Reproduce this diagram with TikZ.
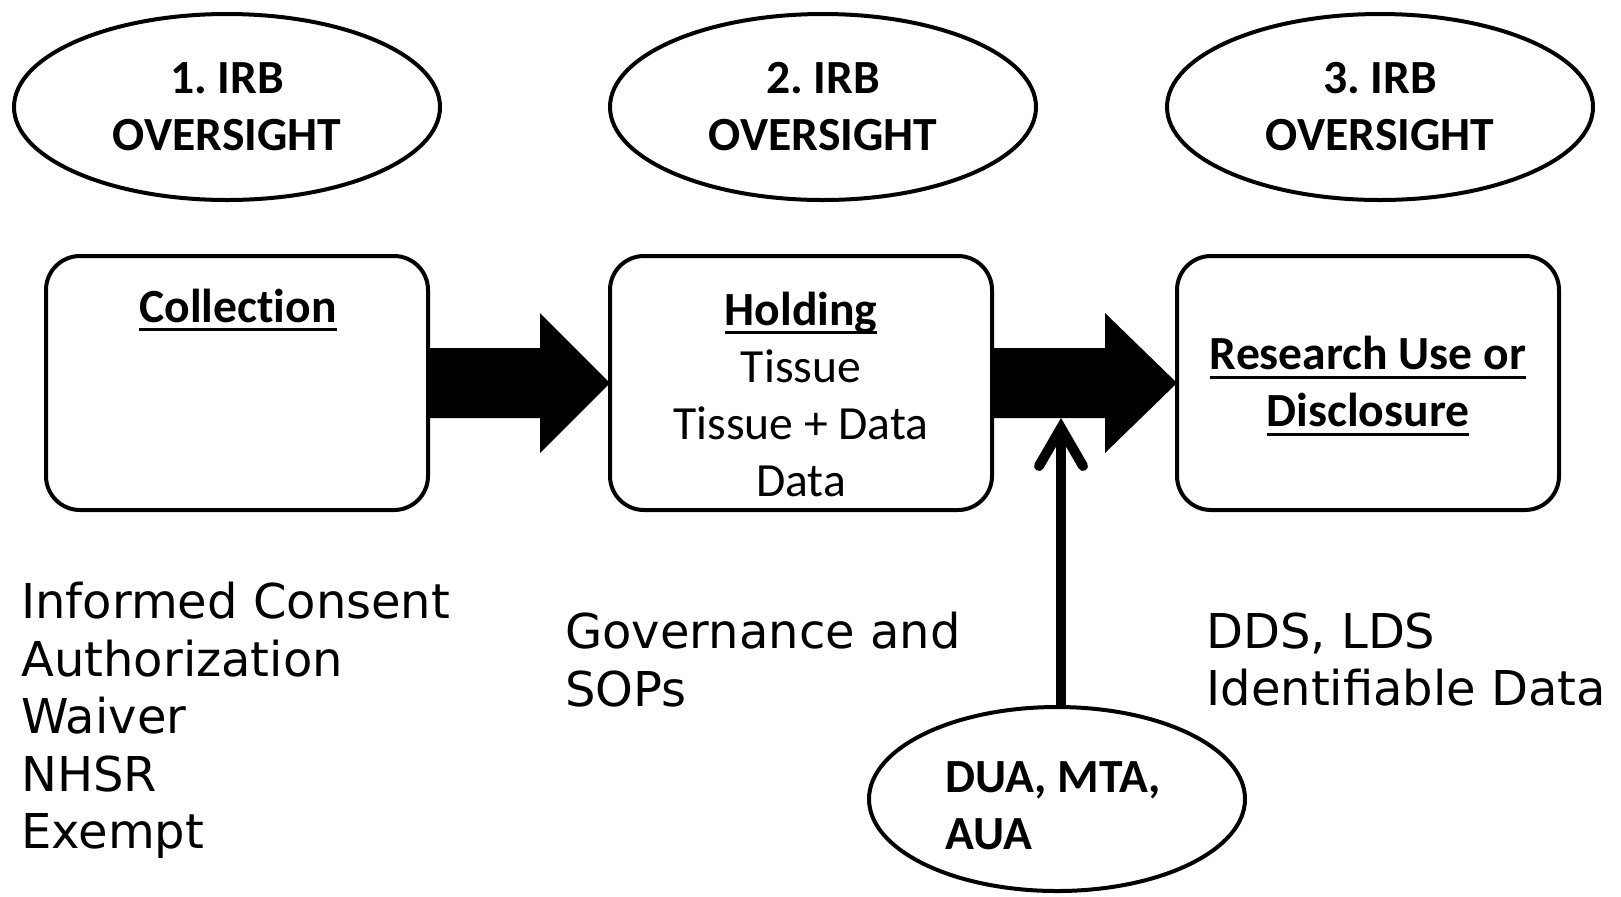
\documentclass[tikz,border=0pt]{standalone}
\usepackage{fontspec}
\setmainfont{Carlito}[Ligatures=NoCommon]
\newfontfamily\notefont{DejaVu Sans}
\usetikzlibrary{shapes.geometric,calc,arrows.meta}
\frenchspacing

% underline at a fixed depth below the baseline
\newcommand{\ulbar}[1]{\setbox0\hbox{#1}\rlap{\rule[-4.5pt]{\wd0}{1.5pt}}\box0}

\tikzset{
  irb/.style={ellipse, draw, line width=2pt, minimum width=213pt, minimum height=93pt,
    align=center, font=\bfseries\fontsize{23.8}{28.5}\selectfont},
  stagebox/.style={rectangle, rounded corners=17pt, draw, line width=2pt,
    minimum width=191pt, minimum height=127pt},
  boxtext/.style={align=center, font=\fontsize{23.8}{28.5}\selectfont},
  note/.style={anchor=north west, inner sep=0pt, align=left,
    font=\notefont\fontsize{24}{28.75}\selectfont},
}

\begin{document}
\begin{tikzpicture}[x=0.5pt,y=-0.5pt]
\useasboundingbox (0,0) rectangle (1621,896);

\node[irb] (irb1) at (227,107) {1. IRB\\OVERSIGHT};
\node[irb] (irb2) at (823,107) {2. IRB\\OVERSIGHT};
\node[irb] (irb3) at (1380,107) {3. IRB\\OVERSIGHT};

\node[stagebox] (coll) at (237,383) {};
\node[stagebox] (hold) at (801,383) {};
\node[stagebox] (res) at (1368,383) {};

\node[boxtext] (colltitle) at (238,310) {\textbf{\ulbar{Collection}}};
\node[boxtext] (holdtext) at (801,394) {\textbf{\ulbar{Holding}}\\Tissue\\Tissue + Data\\Data};
\node[boxtext] (restext) at (1368,386) {\textbf{\ulbar{Research Use or}}\\\textbf{\ulbar{Disclosure}}};

\fill ($(coll.east)+(0,-35)$) -- ($(hold.west)+(-68,-35)$) -- ($(hold.west)+(-68,-70)$)
  -- ($(hold.west)+(2,0)$) -- ($(hold.west)+(-68,70)$) -- ($(hold.west)+(-68,35)$)
  -- ($(coll.east)+(0,35)$) -- cycle;
\fill ($(hold.east)+(0,-35)$) -- ($(res.west)+(-70,-35)$) -- ($(res.west)+(-70,-70)$)
  -- ($(res.west)+(2,0)$) -- ($(res.west)+(-70,70)$) -- ($(res.west)+(-70,35)$)
  -- ($(hold.east)+(0,35)$) -- cycle;

\node[irb, minimum width=188pt, minimum height=92pt] (dua) at (1057,799) {};
\node[align=left, font=\bfseries\fontsize{23.8}{28.5}\selectfont] (duatext) at (1053,806) {DUA, MTA,\\AUA};
\coordinate (duatip) at (1061,418);
\draw[line width=5pt, -{Straight Barb[length=19pt,width=22pt,line cap=round]}] (dua.north -| duatip) -- (duatip);

\node[note] (consent) at (21,582) {Informed Consent\\Authorization\\Waiver\\NHSR\\Exempt};
\node[note] (gov) at (565,612) {Governance and\\SOPs};
\node[note] (dds) at (1206,612) {DDS, LDS\\Identifiable Data};
\end{tikzpicture}
\end{document}
